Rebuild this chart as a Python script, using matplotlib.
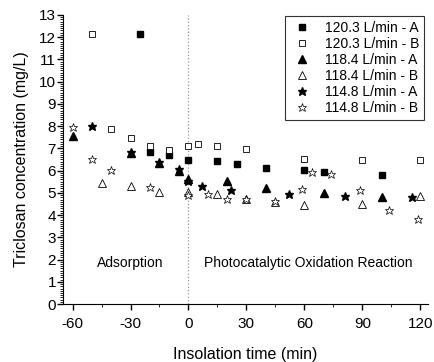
import matplotlib
matplotlib.use("Agg")
import matplotlib.pyplot as plt
from matplotlib.ticker import MultipleLocator

plt.rcParams['font.family'] = ['Liberation Sans', 'DejaVu Sans']
plt.rcParams['axes.unicode_minus'] = False

# 120.3 L/min - A (filled squares)
t_a1 = [-25, -20, -10, 0, 15, 25, 40, 60, 70, 100]
c_a1 = [12.15, 6.84, 6.70, 6.46, 6.43, 6.31, 6.13, 6.03, 5.94, 5.79]
# 120.3 L/min - B (open squares)
t_b1 = [-50, -40, -30, -20, -10, 0, 5, 15, 30, 60, 90, 120]
c_b1 = [12.15, 7.87, 7.47, 7.12, 6.93, 7.12, 7.20, 7.12, 6.97, 6.54, 6.46, 6.49]
# 118.4 L/min - A (filled triangles)
t_a2 = [-60, -30, -15, -5, 0, 20, 40, 70, 100]
c_a2 = [7.57, 6.81, 6.34, 6.00, 5.60, 5.53, 5.20, 5.00, 4.83]
# 118.4 L/min - B (open triangles)
t_b2 = [-45, -30, -15, 0, 15, 30, 45, 60, 90, 120]
c_b2 = [5.43, 5.31, 5.05, 5.05, 4.95, 4.74, 4.59, 4.45, 4.50, 4.86]
# 114.8 L/min - A (filled stars)
t_a3 = [-50, -30, -15, -5, 0, 7, 22, 52, 81, 116]
c_a3 = [8.00, 6.85, 6.40, 6.05, 5.55, 5.32, 5.13, 4.95, 4.86, 4.83]
# 114.8 L/min - B (open stars)
t_b3 = [-60, -50, -40, -20, 0, 10, 20, 30, 45, 59, 64, 74, 89, 104, 119]
c_b3 = [7.98, 6.52, 6.01, 5.25, 4.89, 4.93, 4.71, 4.74, 4.62, 5.16, 5.94, 5.83, 5.13, 4.24, 3.81]

labels = ['120.3 L/min - A', '120.3 L/min - B', '118.4 L/min - A',
          '118.4 L/min - B', '114.8 L/min - A', '114.8 L/min - B']

fig = plt.figure(figsize=(4.34, 3.62), dpi=100)
ax = fig.add_axes([0.145, 0.160, 0.841, 0.799])

ax.axvline(0, color='#999999', linestyle=':', linewidth=0.9, zorder=0)

ax.plot(t_a1, c_a1, 's', color='black', ms=4.3, label=labels[0], linestyle='none')
ax.plot(t_b1, c_b1, 's', mfc='white', mec='black', mew=0.6, ms=4.3, label=labels[1], linestyle='none')
ax.plot(t_a2, c_a2, '^', color='black', ms=5.3, label=labels[2], linestyle='none')
ax.plot(t_b2, c_b2, '^', mfc='white', mec='black', mew=0.6, ms=5.3, label=labels[3], linestyle='none')
ax.plot(t_a3, c_a3, '*', color='black', ms=6.3, label=labels[4], linestyle='none')
ax.plot(t_b3, c_b3, '*', mfc='white', mec='black', mew=0.5, ms=6.3, label=labels[5], linestyle='none')

ax.set_xlim(-65, 124)
ax.set_ylim(0, 13)
ax.xaxis.set_major_locator(MultipleLocator(30))
ax.xaxis.set_minor_locator(MultipleLocator(15))
ax.yaxis.set_major_locator(MultipleLocator(1))
ax.yaxis.set_minor_locator(MultipleLocator(0.1))
ax.spines['top'].set_visible(False)
ax.spines['right'].set_visible(False)
ax.tick_params(axis='both', which='major', direction='out', length=4, width=1, labelsize=11)
ax.tick_params(axis='both', which='minor', direction='out', length=2, width=0.6)
ax.tick_params(axis='y', which='major', pad=1)
ax.tick_params(axis='x', which='major', pad=5)

ax.set_xlabel('Insolation time (min)', fontsize=11.5, labelpad=12)
ax.set_ylabel('Triclosan concentration (mg/L)', fontsize=11.5, labelpad=7)

ax.text(-30, 1.85, 'Adsorption', ha='center', va='center', fontsize=10)
ax.text(62, 1.85, 'Photocatalytic Oxidation Reaction', ha='center', va='center', fontsize=10)

leg = ax.legend(loc='upper right', bbox_to_anchor=(1.008, 1.02), fontsize=10,
                frameon=True, fancybox=False, edgecolor='black',
                handletextpad=0.7, labelspacing=0.15, borderpad=0.35, handlelength=1.8)
leg.get_frame().set_linewidth(0.8)

fig.savefig('out.png', dpi=100)
